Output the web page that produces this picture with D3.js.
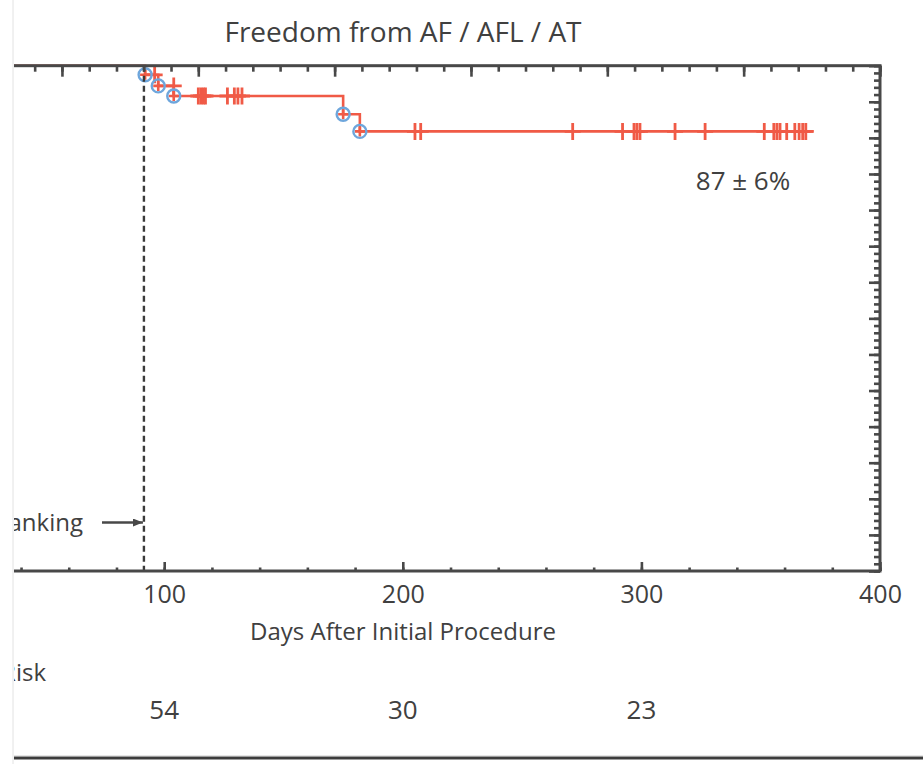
<!DOCTYPE html>
<html>
<head>
<meta charset="utf-8">
<script src="https://cdn.jsdelivr.net/npm/d3@7"></script>
<style>
    body { margin: 0; background: #fff; }
    text { font-family: "Open Sans", sans-serif; fill: #404040; }
</style>
</head>
<body>
<div id="chart"></div>
<script>
// values
var eventDays = [92, 97.5, 104, 175, 182];
var eventSurv = [0.982, 0.960, 0.940, 0.904, 0.870];
var censorDays = [96, 104, 114.3, 115.4, 116.4, 117.3, 126.5, 129.4, 130.9, 132.6,
    205.1, 207.5, 271.2, 292.1, 296.9, 298.1, 299.4, 314.1, 326.7,
    351.5, 355.5, 356.8, 358.1, 360.9, 364.3, 366.1, 367.6, 368.9];
var lastDay = 372;
var blankingDay = 91.5;
var xTicks = [100, 200, 300, 400];
var riskDays = [100, 200, 300];
var riskCounts = [54, 30, 23];
var finalLabel = "87 \u00b1 6%";

var W = 923, H = 764;
var red = "#f05a46", blue = "#6ea6dc", ink = "#484848";

var svg = d3.select("#chart").append("svg")
    .attr("width", W)
    .attr("height", H);

// the picture is a crop: day 0 sits left of the visible area
var x = d3.scaleLinear().domain([0, 400]).range([-74.4, 880]);
var y = d3.scaleLinear().domain([0, 1]).range([571, 65.7]);
// top and right frame edges carry their own tick spacing
var xTop = d3.scaleLinear().domain([0, 7]).range(x.range());
var yRight = d3.scaleLinear().domain([0, 14]).range(y.range());

svg.append("clipPath").attr("id", "crop")
    .append("rect").attr("x", 14).attr("y", 0).attr("width", W - 14).attr("height", H);

svg.append("line")
    .attr("x1", 13).attr("x2", 13).attr("y1", 0).attr("y2", H)
    .style("stroke", "#e2e2e2").style("stroke-width", 1);

var g = svg.append("g").attr("clip-path", "url(#crop)");

function survAt(t) {
    var s = 1;
    eventDays.forEach(function (d, i) { if (d < t) s = eventSurv[i]; });
    return s;
}

// step curve
var pts = [[0, 1]];
eventDays.forEach(function (d, i) { pts.push([d, eventSurv[i]]); });
pts.push([lastDay, eventSurv[eventSurv.length - 1]]);

g.append("path")
    .datum(pts)
    .attr("d", d3.line()
        .x(function (d) { return x(d[0]); })
        .y(function (d) { return y(d[1]); })
        .curve(d3.curveStepAfter))
    .style("fill", "none")
    .style("stroke", red)
    .style("stroke-width", 2.6);

// censor marks
g.selectAll(".censor")
    .data(censorDays)
    .enter().append("path")
    .attr("class", "censor")
    .attr("transform", function (d) { return "translate(" + x(d) + "," + y(survAt(d)) + ")"; })
    .attr("d", "M-8,0H8M0,-8.5V8.5")
    .style("stroke", red)
    .style("stroke-width", 2.8);

// events
var ev = g.selectAll(".event")
    .data(eventDays)
    .enter().append("g")
    .attr("class", "event")
    .attr("transform", function (d, i) { return "translate(" + x(d) + "," + y(eventSurv[i]) + ")"; });
ev.append("path")
    .attr("d", "M-5,0H5M0,-5V5")
    .style("stroke", red)
    .style("stroke-width", 2.6);
ev.append("circle")
    .attr("r", 6.5)
    .style("fill", "none")
    .style("stroke", blue)
    .style("stroke-width", 2.4);

// blanking line
g.append("line")
    .attr("x1", x(blankingDay)).attr("x2", x(blankingDay))
    .attr("y1", y(1)).attr("y2", y(0))
    .style("stroke", "#3a3a3a")
    .style("stroke-width", 2.4)
    .style("stroke-dasharray", "6,4");

// frame
g.append("rect")
    .attr("x", x(0)).attr("y", y(1))
    .attr("width", x(400) - x(0)).attr("height", y(0) - y(1))
    .style("fill", "none")
    .style("stroke", ink)
    .style("stroke-width", 3);

function styleAxis(sel) {
    sel.select(".domain").remove();
    sel.selectAll("line").style("stroke", ink).style("stroke-width", 2.6);
}

// bottom
g.append("g")
    .attr("transform", "translate(0," + y(0) + ")")
    .call(d3.axisBottom(x).tickValues(d3.range(0, 401, 20)).tickSizeInner(-3.5).tickSizeOuter(0).tickFormat(""))
    .call(styleAxis);
var bottom = g.append("g")
    .attr("transform", "translate(0," + y(0) + ")")
    .call(d3.axisBottom(x).tickValues(xTicks).tickSizeInner(-9).tickSizeOuter(0).tickPadding(14))
    .call(styleAxis);
bottom.selectAll("text")
    .style("font-size", "25px")
    .style("font-family", "'Open Sans', sans-serif")
    .style("fill", "#404040");

// top
g.append("g")
    .attr("transform", "translate(0," + y(1) + ")")
    .call(d3.axisTop(xTop).tickValues(d3.range(0, 35.5).map(function (k) { return k / 5; }))
        .tickSizeInner(-6).tickSizeOuter(0).tickFormat(""))
    .call(styleAxis);
g.append("g")
    .attr("transform", "translate(0," + y(1) + ")")
    .call(d3.axisTop(xTop).tickValues(d3.range(0, 8)).tickSizeInner(-11).tickSizeOuter(0).tickFormat(""))
    .call(styleAxis);

// right
g.append("g")
    .attr("transform", "translate(" + x(400) + ",0)")
    .call(d3.axisRight(yRight).tickValues(d3.range(0, 70.5).map(function (k) { return k / 5; }))
        .tickSizeInner(-6).tickSizeOuter(0).tickFormat(""))
    .call(styleAxis);
g.append("g")
    .attr("transform", "translate(" + x(400) + ",0)")
    .call(d3.axisRight(yRight).tickValues(d3.range(0, 15)).tickSizeInner(-11).tickSizeOuter(0).tickFormat(""))
    .call(styleAxis);

// blanking annotation (cut by the crop, as in the source)
g.append("text")
    .attr("x", 83).attr("y", 531)
    .attr("text-anchor", "end")
    .style("font-size", "24px")
    .text("Blanking");

svg.append("defs").append("marker")
    .attr("id", "arrow")
    .attr("viewBox", "0 0 10 8")
    .attr("refX", 10).attr("refY", 4)
    .attr("markerWidth", 10).attr("markerHeight", 8)
    .attr("markerUnits", "userSpaceOnUse")
    .attr("orient", "auto")
    .append("path").attr("d", "M0,0L10,4L0,8Z").style("fill", ink);

g.append("line")
    .attr("x1", 102).attr("x2", x(blankingDay) - 1)
    .attr("y1", 522.5).attr("y2", 522.5)
    .attr("marker-end", "url(#arrow)")
    .style("stroke", ink)
    .style("stroke-width", 2.4);

// labels
g.append("text")
    .attr("x", 743).attr("y", 190)
    .attr("text-anchor", "middle")
    .style("font-size", "26px")
    .text(finalLabel);

svg.append("text")
    .attr("x", 403).attr("y", 42)
    .attr("text-anchor", "middle")
    .style("font-size", "28px")
    .text("Freedom from AF / AFL / AT");

svg.append("text")
    .attr("x", 403).attr("y", 640)
    .attr("text-anchor", "middle")
    .style("font-size", "24px")
    .text("Days After Initial Procedure");

g.append("text")
    .attr("x", 46).attr("y", 681)
    .attr("text-anchor", "end")
    .style("font-size", "24px")
    .text("Number at Risk");

g.selectAll(".risk")
    .data(riskDays)
    .enter().append("text")
    .attr("class", "risk")
    .attr("x", function (d) { return x(d); })
    .attr("y", 719)
    .attr("text-anchor", "middle")
    .style("font-size", "26px")
    .text(function (d, i) { return riskCounts[i]; });

// bottom rule
svg.append("line")
    .attr("x1", 14).attr("x2", W).attr("y1", 755.5).attr("y2", 755.5)
    .style("stroke", "#e6e6e6").style("stroke-width", 1);
svg.append("line")
    .attr("x1", 14).attr("x2", W).attr("y1", 758).attr("y2", 758)
    .style("stroke", "#3c3c3c").style("stroke-width", 3);
</script>
</body>
</html>
